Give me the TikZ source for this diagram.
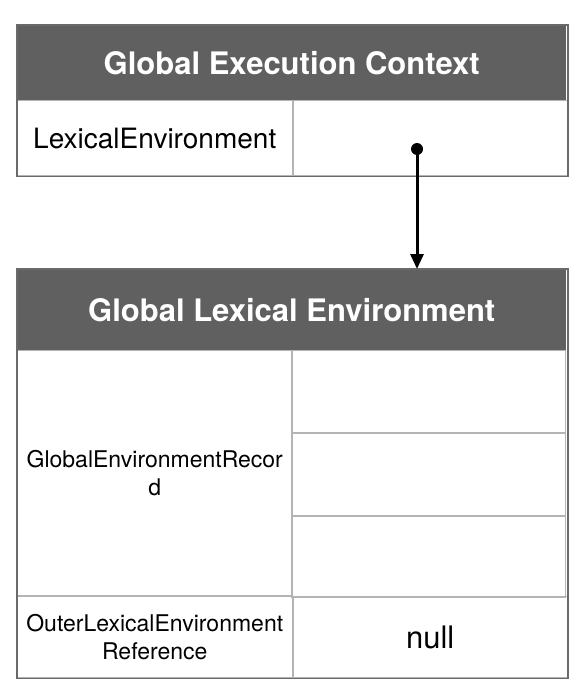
\documentclass[tikz,border=0pt]{standalone}
\usepackage{fontspec}
\setmainfont{TeX Gyre Heros}
\usepackage{xcolor}
\usetikzlibrary{positioning,arrows.meta}

\definecolor{headgray}{HTML}{606060}
\definecolor{framegray}{HTML}{6A6A6A}
\definecolor{linegray}{HTML}{B4B4B4}

\newcommand{\headfont}{\fontsize{31}{36}\selectfont\bfseries}
\newcommand{\lexfont}{\fontsize{28}{32}\selectfont}
\newcommand{\keyfont}{\fontsize{23}{28}\selectfont}
\newcommand{\valfont}{\fontsize{31}{36}\selectfont}

\begin{document}
\begin{tikzpicture}[x=1pt,y=-1pt,
    header/.style={fill=headgray, text=white, font=\headfont, minimum width=549pt, inner sep=0pt, anchor=north west},
    cell/.style={draw=linegray, line width=1pt, minimum width=274.5pt, inner sep=0pt, align=center},
    frame/.style={draw=framegray, line width=1.5pt},
    pointer/.style={line width=3pt, -{Triangle[width=13pt,length=15pt]}}
]
    \useasboundingbox (0,0) rectangle (588,690);

    % execution context
    \node[header, minimum height=75pt] (gec) at (17,25) {Global Execution Context};
    \node[cell, minimum height=75pt, font=\lexfont] (lexkey) [below right=0pt of gec.south west] {LexicalEnvironment};
    \node[cell, minimum height=75pt] (lexval) [right=0pt of lexkey] {};
    \draw[frame] (gec.north west) rectangle (lexval.south east);

    % lexical environment
    \node[header, minimum height=81pt] (gle) at (17,269) {Global Lexical Environment};
    \node[cell, minimum height=245pt, font=\keyfont] (reckey) [below right=0pt of gle.south west] {GlobalEnvironmentRecor\\d};
    \node[cell, minimum height=81.67pt] (recA) [below left=0pt of gle.south east] {};
    \node[cell, minimum height=81.67pt] (recB) [below=0pt of recA] {};
    \node[cell, minimum height=81.67pt] (recC) [below=0pt of recB] {};
    \node[cell, minimum height=81pt, font=\keyfont] (outkey) [below=0pt of reckey] {OuterLexicalEnvironment\\Reference};
    \node[cell, minimum height=81pt, font=\valfont] (outval) [right=0pt of outkey] {null};
    \draw[frame] (gle.north west) rectangle (outval.south east);

    % reference
    \coordinate (ptr) at (417,149);
    \fill (ptr) circle (6);
    \draw[pointer] (ptr) -- (ptr |- gle.north);
\end{tikzpicture}
\end{document}
